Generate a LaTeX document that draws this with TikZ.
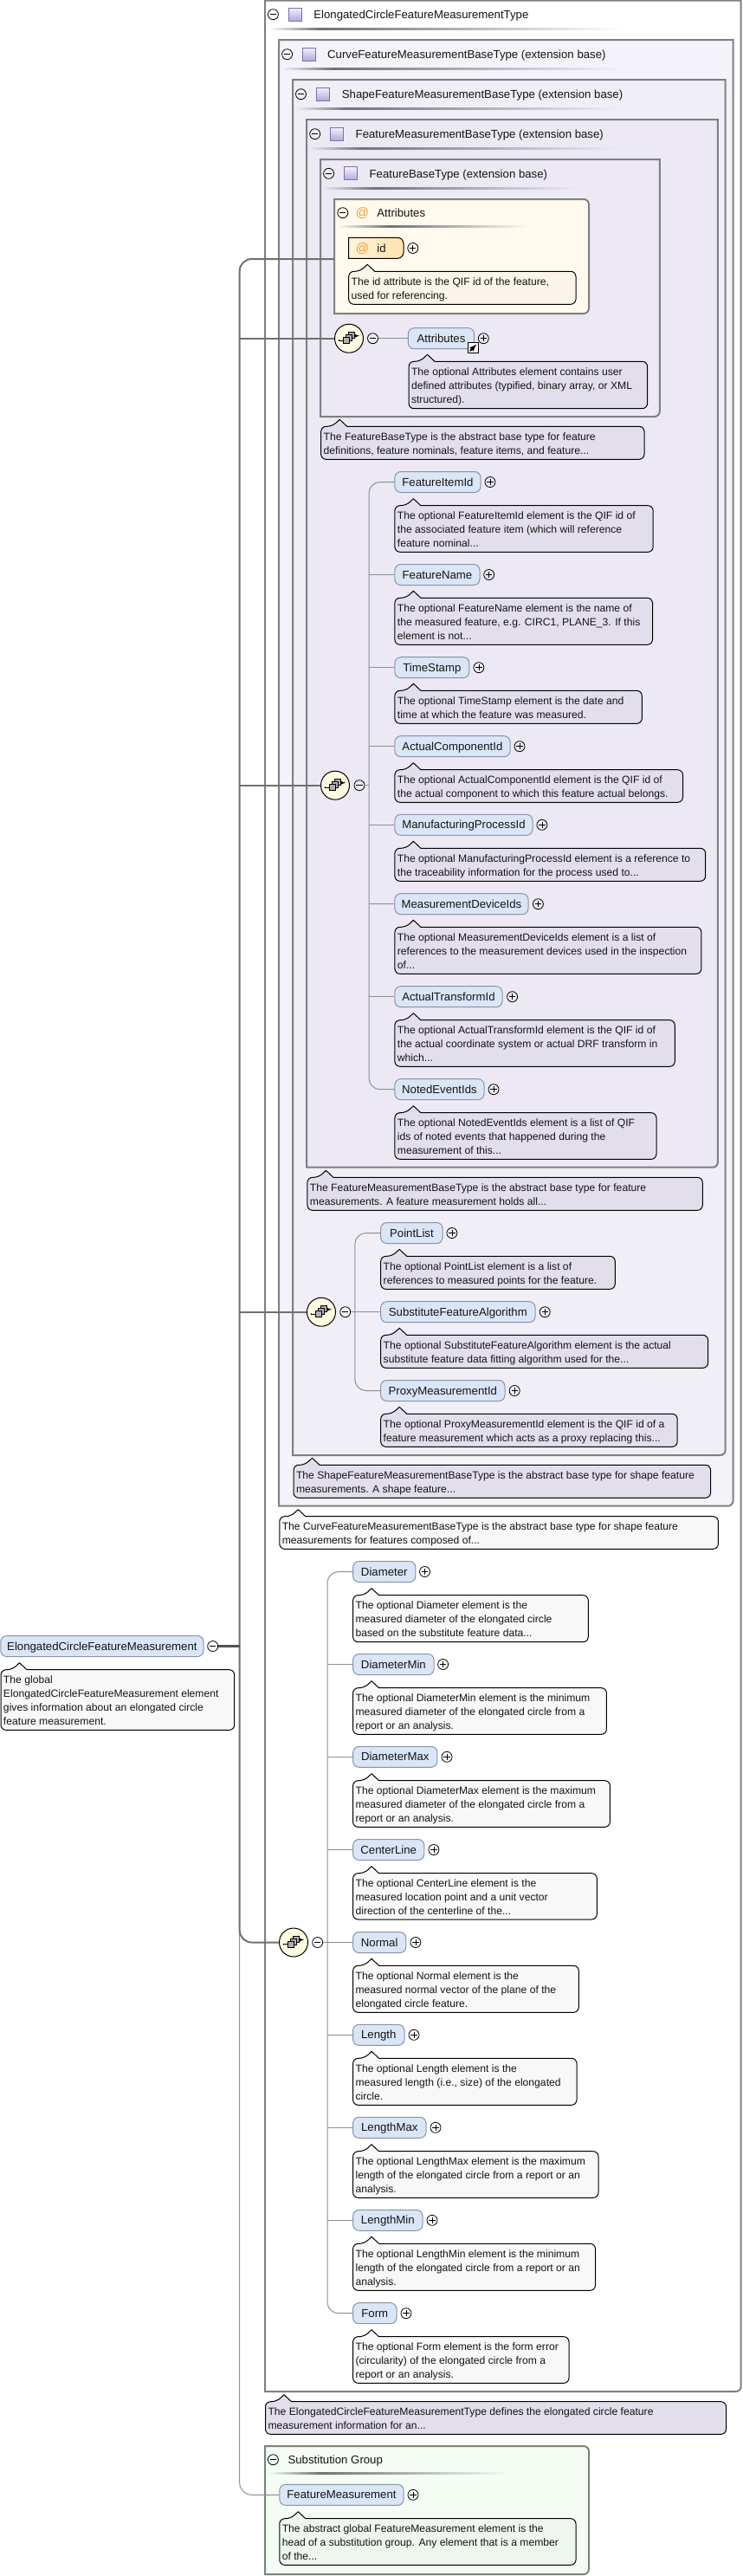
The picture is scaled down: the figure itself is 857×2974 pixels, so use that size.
\documentclass[tikz,border=0pt]{standalone}
\usepackage{fontspec}
\setmainfont{Liberation Sans}
\definecolor{boxline}{HTML}{808080}
\definecolor{lv0}{HTML}{FFFFFF}
\definecolor{lv1}{HTML}{F5F3FA}
\definecolor{lv2}{HTML}{F0EEF7}
\definecolor{lv3}{HTML}{ECE9F5}
\definecolor{attrbg}{HTML}{FFF9EE}
\definecolor{subbg}{HTML}{F4FCF4}
\definecolor{notepurple}{HTML}{E3DEEC}
\definecolor{notewhite}{HTML}{F8F8F8}
\definecolor{noteattr}{HTML}{F9F5EA}
\definecolor{notesub}{HTML}{EEF6EE}
\definecolor{pillfill}{HTML}{DAE6F7}
\definecolor{pillline}{HTML}{8A93A3}
\definecolor{trunkc}{HTML}{707070}
\definecolor{branchc}{HTML}{8E8E8E}
\definecolor{inkc}{HTML}{141414}
\definecolor{seqfill}{HTML}{FDFBE2}
\definecolor{iconfill}{HTML}{B0B0B0}
\definecolor{typefillA}{HTML}{F2F0FA}
\definecolor{typefillB}{HTML}{B4A8DC}
\definecolor{typeline}{HTML}{7D70B0}
\definecolor{atcolor}{HTML}{F0A030}
\definecolor{idfillA}{HTML}{FFF3D8}
\definecolor{idfillB}{HTML}{FFE2B0}
\tikzset{
  frameline/.style={draw=boxline,line width=2pt},
  pillbox/.style={draw=pillline,line width=1pt,fill=pillfill,rounded corners=7pt,minimum height=24pt,inner sep=0pt,
     text height=9pt,text depth=0pt,font=\fontsize{13.2}{16}\selectfont,text=inkc},
  notebox/.style={draw=black,line width=1pt,line join=round},
  notetext/.style={anchor=north west,inner sep=0pt,align=left,text=inkc,font=\fontsize{12.15}{16}\selectfont},
  titletext/.style={anchor=base west,inner sep=0pt,text=inkc,font=\fontsize{13.2}{16}\selectfont},
  plusnode/.style={circle,draw=black,line width=.8pt,minimum size=12pt,inner sep=0pt,
     path picture={\draw[line width=.8pt] ([xshift=-3.6pt]path picture bounding box.center)--([xshift=3.6pt]path picture bounding box.center)
     ([yshift=-3.6pt]path picture bounding box.center)--([yshift=3.6pt]path picture bounding box.center);}},
  minusnode/.style={circle,draw=black,line width=.8pt,minimum size=12pt,inner sep=0pt,
     path picture={\draw[line width=.8pt] ([xshift=-3.6pt]path picture bounding box.center)--([xshift=3.6pt]path picture bounding box.center);}},
  seqnode/.style={circle,draw=black,line width=1pt,fill=seqfill,minimum size=33pt,inner sep=0pt},
  typeicon/.style={draw=typeline,line width=.8pt,top color=typefillA,bottom color=typefillB,minimum size=15pt,inner sep=0pt},
  branchline/.style={draw=branchc,line width=1pt},
  trunkline/.style={draw=trunkc,line width=2pt},
  stubline/.style={draw=black!68,line width=2.6pt},
  atsign/.style={anchor=base,inner sep=0pt,text=atcolor,font=\fontsize{15}{16}\selectfont},
}
\newcommand\typeframe[5]{\draw[frameline,fill=#5] (#1,#3) -- (#2,#3) [rounded corners=6pt] -- (#2,#4) [sharp corners] -- (#1,#4) -- cycle;}
\newcommand\groupframe[5]{\draw[frameline,fill=#5] (#1,#3) [rounded corners=6pt] -- (#2,#3) -- (#2,#4) [sharp corners] -- (#1,#4) -- cycle;}
\newcommand\titlerule[5]{\shade[left color=#5,right color=black!55] (#1,#4-1) rectangle (#2,#4+1);\shade[left color=black!55,right color=#5] (#2,#4-1) rectangle (#3,#4+1);}
\newcommand\pill[6]{\pgfmathsetmacro\pw{#3-#2}\node[pillbox,minimum width=\pw pt] (#1) at ({(#2+#3)/2},#4) {#5};\node[plusnode] (#1plus) at (#6,#4) {};}
\newcommand\note[7]{\draw[notebox,fill=#6] ({#2+30},#4) [rounded corners=6pt] -- (#3,#4) -- (#3,#5) -- (#2,#5) -- (#2,#4) -- ({#2+13},#4) [sharp corners] -- ({#2+21.5},{#4-8}) -- cycle;
  \node[notetext] (#1) at ({#2+2.8},{#4+5.6}) {\rule{0pt}{10pt}#7};}
\newcommand\seqicon[3]{\node[seqnode] (#1) at (#2,#3) {};
  \begin{scope}[shift={(#1.center)}]
   \draw[line width=1pt] (-11,2.3) -- (-6,2.3);\fill (-11.6,2.3) circle (.9);
   \draw[line width=.8pt,-{latex[length=3pt,width=3pt]}] (6,-3) -- (12,-3);
   \draw[line width=.9pt,fill=iconfill] (-.5,-7.2) rectangle (6.5,-.2);
   \draw[line width=.9pt,fill=iconfill] (-3.2,-4.2) rectangle (3.8,2.8);
   \draw[line width=.9pt,fill=iconfill] (-6.2,-1.2) rectangle (.8,5.8);
  \end{scope}}
\usetikzlibrary{arrows.meta}
\begin{document}
\begin{tikzpicture}[x=1pt,y=-1pt]
\useasboundingbox (0,0) rectangle (857,2974);
% nested frames
\typeframe{306}{855.7}{.7}{2761}{lv0}
\typeframe{322}{846.5}{46}{1738.7}{lv1}
\typeframe{338}{837.7}{92}{1680}{lv2}
\typeframe{354}{828.9}{138}{1347.7}{lv3}
\typeframe{370}{761.8}{184}{481}{lv3}
\groupframe{386}{680}{230}{362}{attrbg}
\groupframe{306}{680}{2824}{2972}{subbg}
% trunk coordinates
\coordinate (trunk) at (276.7,1900.5);
\coordinate (attrL) at (385.8,299);
% title rows
\node[minusnode] (m0a) at (315.4,16.7) {};
\node[typeicon] (t0) at (341.2,16.5) {};
\node[titletext] (tt0) at (362.2,21.4) {ElongatedCircleFeatureMeasurementType};
\titlerule{309.5}{370}{718.8}{33}{lv0}
\node[minusnode] (m1a) at (331.6,62.7) {};
\node[typeicon] (t1) at (357.2,62.5) {};
\node[titletext] (tt1) at (378,67.4) {CurveFeatureMeasurementBaseType (extension base)};
\titlerule{325}{385}{718.8}{79}{lv1}
\node[minusnode] (m2a) at (347.5,108.7) {};
\node[typeicon] (t2) at (373.1,108.5) {};
\node[titletext] (tt2) at (394.7,113.4) {ShapeFeatureMeasurementBaseType (extension base)};
\titlerule{340.8}{401}{715}{125}{lv2}
\node[minusnode] (m3a) at (363.7,154.7) {};
\node[typeicon] (t3) at (389.3,154.5) {};
\node[titletext] (tt3) at (410.5,159.4) {FeatureMeasurementBaseType (extension base)};
\titlerule{356.7}{417}{713}{171}{lv3}
\node[minusnode] (m4a) at (379.6,200.3) {};
\node[typeicon] (t4) at (405.1,200.3) {};
\node[titletext] (tt4) at (426.4,205) {FeatureBaseType (extension base)};
\titlerule{372}{432}{667}{217}{lv3}
\node[minusnode] (m5a) at (395.8,245.7) {};
\node[atsign] (at5) at (418.6,250.7) {@};
\node[titletext] (tt5) at (435.2,250.4) {Attributes};
\titlerule{389.5}{450}{608}{261}{attrbg}
% id attribute
\draw[draw=black,line width=1pt,left color=idfillA,right color=idfillB] (402.7,274.3) -- (459,274.3) [rounded corners=7pt] -- (466,274.3) -- (466,298.3) [sharp corners] -- (402.7,298.3) -- cycle;
\node[atsign] (idat) at (418.6,291.5) {@};
\node[titletext] (idt) at (435.2,291) {id};
\node[plusnode] (idplus) at (476.8,286.5) {};
\note{idnote}{402.7}{665}{313.3}{351.3}{noteattr}{The id attribute is the QIF id of the feature,\\used for referencing.}
% sequence 1
\node[minusnode] (m1) at (430.5,390.7) {};
\pill{Attributes}{471.3}{547.7}{390.7}{Attributes}{558.3}
\node[draw=black,line width=1pt,fill=white,minimum size=12pt,inner sep=0pt] (linkbox) at (546.3,401.5) {};
\draw[line width=1.8pt,-{latex[length=4.5pt,width=4.5pt]}] ([xshift=-3.6pt,yshift=-3.6pt]linkbox.center) -- ([xshift=4pt,yshift=4pt]linkbox.center);
\draw[branchline] (m1.east) -- (Attributes.west);
\note{AttributesN}{472}{747.6}{417.3}{471.7}{notepurple}{The optional Attributes element contains user\\defined attributes (typified, binary array, or XML\\structured).}
\note{FBnote}{370.7}{744}{492.3}{530.3}{notepurple}{The FeatureBaseType is the abstract base type for feature\\definitions, feature nominals, feature items, and feature...}
% sequence 2
\coordinate (b2) at (426,906.7);
\node[minusnode] (m2) at (415,906.7) {};
\pill{FeatureItemId}{455.9}{555}{556.5}{FeatureItemId}{566}
\note{n1}{455.9}{754.2}{583.7}{637.3}{notepurple}{The optional FeatureItemId element is the QIF id of\\the associated feature item (which will reference\\feature nominal...}
\pill{FeatureName}{455.9}{554}{663.5}{FeatureName}{564.7}
\note{n2}{455.9}{753.5}{690.3}{744.3}{notepurple}{The optional FeatureName element is the name of\\the measured feature, e.g. CIRC1, PLANE\_3. If this\\element is not...}
\pill{TimeStamp}{455.9}{541.8}{770.7}{TimeStamp}{552.9}
\note{n3}{455.9}{741.3}{797.3}{835.3}{notepurple}{The optional TimeStamp element is the date and\\time at which the feature was measured.}
\pill{ActualComponentId}{455.9}{589}{861.7}{ActualComponentId}{600}
\note{n4}{455.9}{788.5}{888.7}{926.3}{notepurple}{The optional ActualComponentId element is the QIF id of\\the actual component to which this feature actual belongs.}
\pill{ManufacturingProcessId}{455.9}{615}{952.3}{ManufacturingProcessId}{625.9}
\note{n5}{455.9}{814.7}{979.3}{1017.3}{notepurple}{The optional ManufacturingProcessId element is a reference to\\the traceability information for the process used to...}
\pill{MeasurementDeviceIds}{455.9}{610}{1043.7}{MeasurementDeviceIds}{621.4}
\note{n6}{455.9}{809.9}{1070.3}{1124.3}{notepurple}{The optional MeasurementDeviceIds element is a list of\\references to the measurement devices used in the inspection\\of...}
\pill{ActualTransformId}{455.9}{580}{1150.7}{ActualTransformId}{591.6}
\note{n7}{455.9}{779.3}{1177.7}{1231.3}{notepurple}{The optional ActualTransformId element is the QIF id of\\the actual coordinate system or actual DRF transform in\\which...}
\pill{NotedEventIds}{455.9}{559}{1257.7}{NotedEventIds}{570}
\note{n8}{455.9}{758}{1284.7}{1338.3}{notepurple}{The optional NotedEventIds element is a list of QIF\\ids of noted events that happened during the\\measurement of this...}
\draw[branchline,rounded corners=13pt] (FeatureItemId.west) -| (b2) |- (NotedEventIds.west);
\foreach \k in {FeatureName,TimeStamp,ActualComponentId,ManufacturingProcessId,MeasurementDeviceIds,ActualTransformId}{\draw[branchline] (\k.west) -- (\k.west -| b2);}
\draw[branchline] (m2.east) -- (b2);
\note{FMnote}{354.9}{811.3}{1359.3}{1397.3}{notepurple}{The FeatureMeasurementBaseType is the abstract base type for feature\\measurements. A feature measurement holds all...}
% sequence 3
\coordinate (b3) at (409.8,1514.7);
\node[minusnode] (m3) at (398.7,1514.7) {};
\pill{PointList}{439.7}{511.2}{1423.5}{PointList}{521.9}
\note{p1}{439.7}{710.3}{1450.3}{1488.3}{notepurple}{The optional PointList element is a list of\\references to measured points for the feature.}
\pill{SubstituteFeatureAlgorithm}{439.7}{618}{1514.7}{SubstituteFeatureAlgorithm}{629.2}
\note{p2}{439.7}{817.6}{1541.3}{1579.3}{notepurple}{The optional SubstituteFeatureAlgorithm element is the actual\\substitute feature data fitting algorithm used for the...}
\pill{ProxyMeasurementId}{439.7}{583}{1605.5}{ProxyMeasurementId}{594.2}
\note{p3}{439.7}{782.2}{1632.3}{1670.3}{notepurple}{The optional ProxyMeasurementId element is the QIF id of a\\feature measurement which acts as a proxy replacing this...}
\draw[branchline,rounded corners=13pt] (PointList.west) -| (b3) |- (ProxyMeasurementId.west);
\draw[branchline] (m3.east) -- (SubstituteFeatureAlgorithm.west);
\note{Snote}{339}{820.6}{1691.3}{1729.3}{notepurple}{The ShapeFeatureMeasurementBaseType is the abstract base type for shape feature\\measurements. A shape feature...}
\note{Cnote}{322.8}{829.4}{1750.7}{1788.3}{notewhite}{The CurveFeatureMeasurementBaseType is the abstract base type for shape feature\\measurements for features composed of...}
% sequence 4
\coordinate (b4) at (378,2242.5);
\node[minusnode] (m4) at (366.7,2242.5) {};
\pill{Diameter}{407.6}{479.9}{1814.5}{Diameter}{490.5}
\note{d1}{407.6}{679.3}{1841.7}{1895.7}{notewhite}{The optional Diameter element is the\\measured diameter of the elongated circle\\based on the substitute feature data...}
\pill{DiameterMin}{407.6}{501.2}{1921.5}{DiameterMin}{511.6}
\note{d2}{407.6}{700.4}{1948.7}{2002.3}{notewhite}{The optional DiameterMin element is the minimum\\measured diameter of the elongated circle from a\\report or an analysis.}
\pill{DiameterMax}{407.6}{504.9}{2028.3}{DiameterMax}{516}
\note{d3}{407.6}{704.4}{2055.7}{2109.3}{notewhite}{The optional DiameterMax element is the maximum\\measured diameter of the elongated circle from a\\report or an analysis.}
\pill{CenterLine}{407.6}{489.8}{2135.5}{CenterLine}{500.9}
\note{d4}{407.6}{689.3}{2162.7}{2216}{notewhite}{The optional CenterLine element is the\\measured location point and a unit vector\\direction of the centerline of the...}
\pill{Normal}{407.6}{468.8}{2242.5}{Normal}{479.9}
\note{d5}{407.6}{668.3}{2269.3}{2323.3}{notewhite}{The optional Normal element is the\\measured normal vector of the plane of the\\elongated circle feature.}
\pill{Length}{407.6}{467}{2349.3}{Length}{478}
\note{d6}{407.6}{666}{2376.3}{2430.3}{notewhite}{The optional Length element is the\\measured length (i.e., size) of the elongated\\circle.}
\pill{LengthMax}{407.6}{492}{2456.3}{LengthMax}{503}
\note{d7}{407.6}{691}{2483.7}{2537.3}{notewhite}{The optional LengthMax element is the maximum\\length of the elongated circle from a report or an\\analysis.}
\pill{LengthMin}{407.6}{488}{2563.3}{LengthMin}{499}
\note{d8}{407.6}{687.5}{2590.3}{2644.3}{notewhite}{The optional LengthMin element is the minimum\\length of the elongated circle from a report or an\\analysis.}
\pill{Form}{407.6}{458}{2670.7}{Form}{469}
\note{d9}{407.6}{657}{2697.7}{2751.3}{notewhite}{The optional Form element is the form error\\(circularity) of the elongated circle from a\\report or an analysis.}
\draw[branchline,rounded corners=13pt] (Diameter.west) -| (b4) |- (Form.west);
\foreach \k in {DiameterMin,DiameterMax,CenterLine,Length,LengthMax,LengthMin}{\draw[branchline] (\k.west) -- (\k.west -| b4);}
\draw[branchline] (m4.east) -- (Normal.west);
\note{Tnote}{306.5}{838.6}{2772.7}{2810.3}{notepurple}{The ElongatedCircleFeatureMeasurementType defines the elongated circle feature\\measurement information for an...}
% substitution group
\node[minusnode] (m6) at (315.4,2839.7) {};
\node[titletext] (tt6) at (332.4,2844.4) {Substitution Group};
\titlerule{309.5}{370}{588}{2855}{subbg}
\pill{FeatureMeasurement}{322.8}{466.2}{2880.3}{FeatureMeasurement}{477}
\note{FMn}{322.8}{665}{2907.7}{2961.3}{notesub}{The abstract global FeatureMeasurement element is the\\head of a substitution group. Any element that is a member\\of the...}
% global element
\node[pillbox,minimum width=234.2pt] (Global) at (117.9,1900.5) {ElongatedCircleFeatureMeasurement};
\node[minusnode] (m00) at (245.7,1900.5) {};
\note{Gn}{1}{270.7}{1927.7}{1997.3}{notewhite}{The global\\ElongatedCircleFeatureMeasurement element\\gives information about an elongated circle\\feature measurement.}
% main connectors
\draw[branchline,rounded corners=14pt] (trunk) |- (FeatureMeasurement.west);
\seqicon{s1}{403}{390.7}
\seqicon{s2}{387}{906.7}
\seqicon{s3}{371}{1514.7}
\seqicon{s4}{339}{2242.5}
\draw[trunkline,rounded corners=14pt] (attrL) -| (trunk) |- (s4.west);
\draw[trunkline] (s1.west -| trunk) -- (s1.west);
\draw[trunkline] (s2.west -| trunk) -- (s2.west);
\draw[trunkline] (s3.west -| trunk) -- (s3.west);
\draw[stubline] (m00.east) -- (trunk);
\end{tikzpicture}
\end{document}
